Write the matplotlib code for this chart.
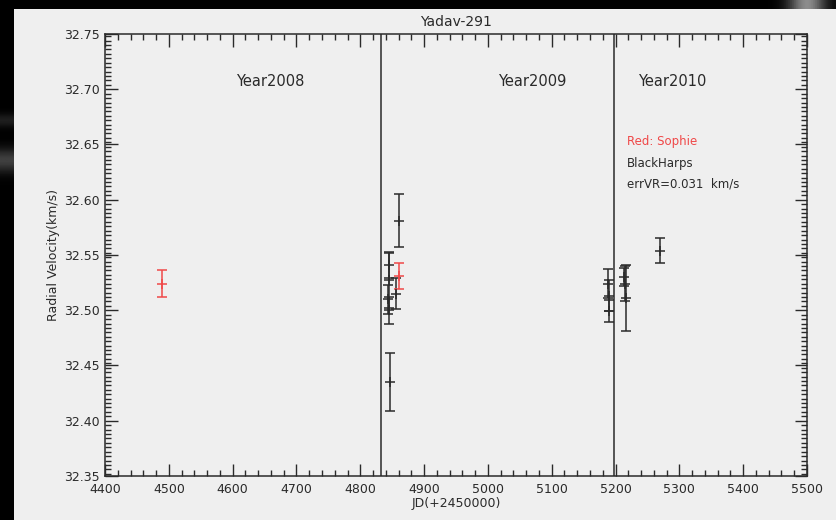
import numpy as np
import matplotlib.pyplot as plt
from matplotlib.ticker import MultipleLocator, FormatStrFormatter

# Sophie measurements (red)
sophie_jd = [4489, 4860]
sophie_rv = [32.524, 32.531]
sophie_err = [0.012, 0.012]

# Harps measurements (black)
harps_jd = [4845, 4845, 4843, 4845, 4846, 4856, 4861,
            5188, 5190, 5189, 5215, 5216, 5214, 5270]
harps_rv = [32.541, 32.527, 32.510, 32.500, 32.435, 32.515, 32.581,
            32.524, 32.513, 32.499, 32.524, 32.511, 32.530, 32.554]
harps_err = [0.012, 0.025, 0.013, 0.012, 0.026, 0.014, 0.024,
             0.013, 0.014, 0.010, 0.016, 0.030, 0.008, 0.011]

# year boundaries (JD - 2450000)
year_starts = [4832.5, 5197.5]
year_labels = ['Year2008', 'Year2009', 'Year2010']
year_label_x = [4659, 5069, 5289]

bg = '#efefef'
ink = '#2a2a2a'
red = '#f04848'

fig = plt.figure(figsize=(8.36, 5.2), dpi=100, facecolor=bg)
ax = fig.add_axes([105 / 836, 1 - 476 / 520, 702 / 836, 442 / 520])
ax.set_facecolor(bg)

for x in year_starts:
    ax.axvline(x, color=ink, lw=1.1)

ax.errorbar(harps_jd, harps_rv, yerr=harps_err, fmt='+', color=ink,
            ms=7, mew=1.1, elinewidth=1.1, capsize=3.6, capthick=1.1)
ax.errorbar(sophie_jd, sophie_rv, yerr=sophie_err, fmt='+', color=red,
            ms=7, mew=1.1, elinewidth=1.1, capsize=3.6, capthick=1.1)

ax.set_xlim(4400, 5500)
ax.set_ylim(32.35, 32.75)
ax.xaxis.set_major_locator(MultipleLocator(100))
ax.xaxis.set_minor_locator(MultipleLocator(20))
ax.yaxis.set_major_locator(MultipleLocator(0.05))
ax.yaxis.set_minor_locator(MultipleLocator(0.004))
ax.yaxis.set_major_formatter(FormatStrFormatter('%.2f'))
ax.tick_params(which='both', direction='in', top=True, right=True,
               color=ink, width=1.0, labelsize=9, labelcolor=ink)
ax.tick_params(which='major', length=9)
ax.tick_params(which='minor', length=4.5)
ax.tick_params(axis='x', pad=5)
ax.tick_params(axis='y', pad=4)
for s in ax.spines.values():
    s.set_color(ink)
    s.set_linewidth(1.1)

ax.set_title('Yadav-291', fontsize=10, color=ink, pad=6)
ax.set_xlabel('JD(+2450000)', fontsize=9, color=ink, labelpad=1)
ax.set_ylabel('Radial Velocity(km/s)', fontsize=9, color=ink, labelpad=3)

for name, x in zip(year_labels, year_label_x):
    ax.text(x, 32.707, name, ha='center', va='center', fontsize=10.5, color=ink)

ax.text(5218, 32.653, 'Red: Sophie', fontsize=8.5, color=red, va='center')
ax.text(5218, 32.633, 'BlackHarps', fontsize=8.5, color=ink, va='center')
ax.text(5218, 32.614, 'errVR=0.031  km/s', fontsize=8.5, color=ink, va='center')

# dark strips along the top and left edges, with a faint glow
top = fig.add_axes([0, 1 - 9 / 520, 1, 9 / 520])
xx = np.linspace(0, 836, 400)
glow = np.exp(-((xx - 808) / 18) ** 2) * 0.55
top.imshow(glow[None, :], cmap='gray', vmin=0, vmax=1, aspect='auto',
           extent=[0, 836, 0, 1])
top.axis('off')

left = fig.add_axes([0, 0, 14 / 836, 1 - 9 / 520])
# rows run from the top of the strip (pixel 9) down to the bottom (pixel 520)
yy = np.linspace(9, 520, 400)
lglow = (np.exp(-((yy - 160) / 12) ** 2) * 0.25 +
         np.exp(-((yy - 120) / 7) ** 2) * 0.12)
left.imshow(lglow[:, None], cmap='gray', vmin=0, vmax=1, aspect='auto')
left.axis('off')

fig.savefig('out.png', dpi=100, facecolor=bg)
